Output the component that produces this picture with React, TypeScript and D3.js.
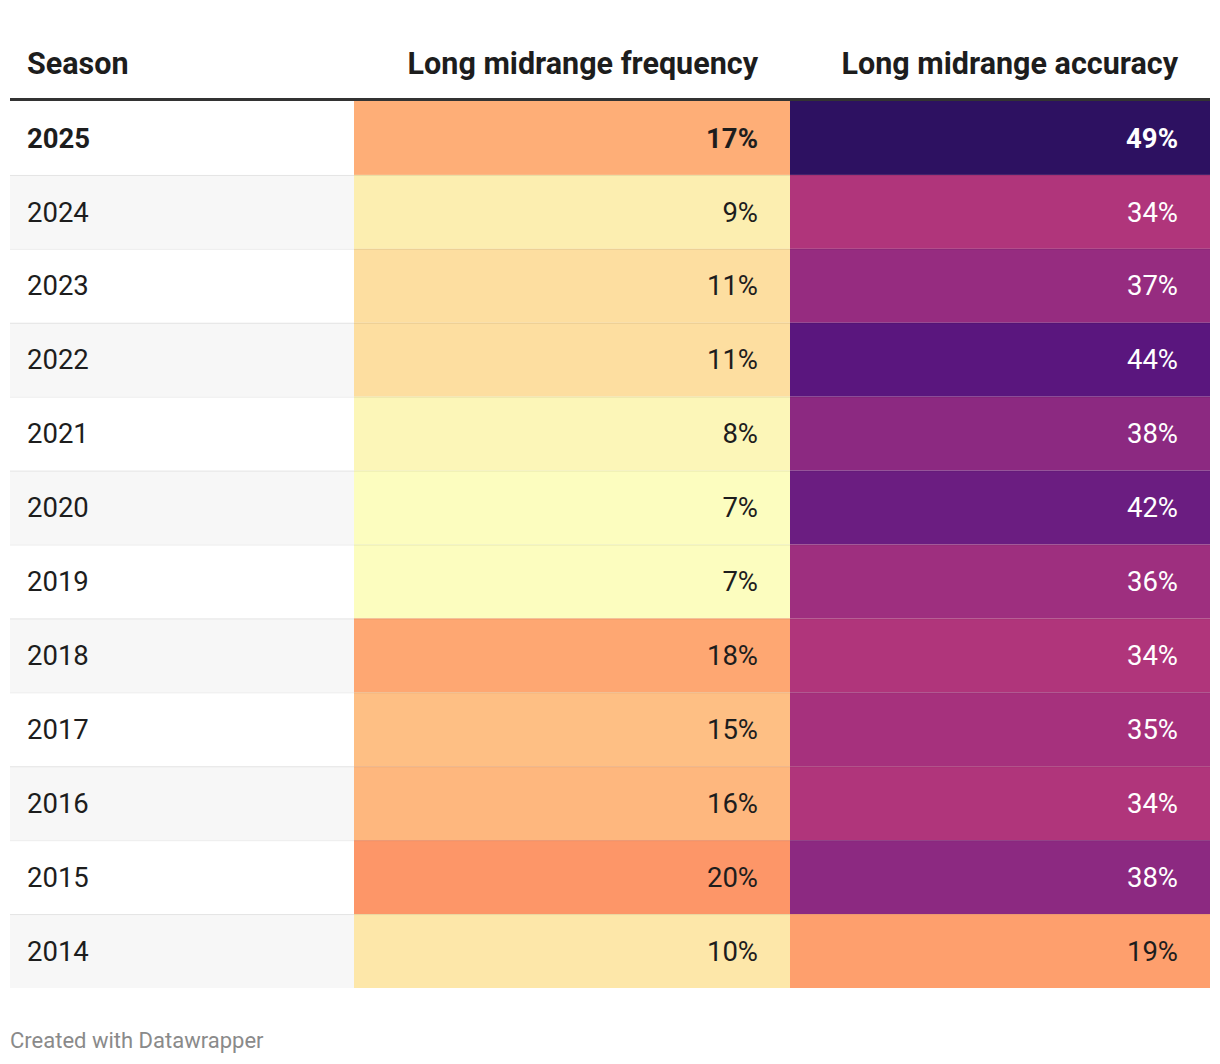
import React from "react";
import * as d3 from "d3";

const seasons = ["2025", "2024", "2023", "2022", "2021", "2020", "2019", "2018", "2017", "2016", "2015", "2014"];
const frequency = [17, 9, 11, 11, 8, 7, 7, 18, 15, 16, 20, 10];
const accuracy = [49, 34, 37, 44, 38, 42, 36, 34, 35, 34, 38, 19];
const headers = ["Season", "Long midrange frequency", "Long midrange accuracy"];
const footerText = "Created with Datawrapper";

const W = 1220;
const H = 1064;
const FONT = "Roboto, 'Noto Sans', sans-serif";

export default function App() {
  const left = 10;
  const right = 1210;
  const col1 = 354;
  const col2 = 790;
  const top = 101;
  const bottom = 988;

  const y = d3.scaleBand<string>().domain(seasons).range([top, bottom]).padding(0);

  const freqT = d3.scaleLinear().domain([7, 20]).range([1, 0.78]);
  const accT = d3.scaleLinear().domain([19, 49]).range([0.8, 0.17]);
  const freqColor = (v: number) => d3.interpolateMagma(freqT(v));
  const accColor = (v: number) => d3.interpolateMagma(accT(v));
  const textOn = (bg: string) => (d3.hsl(bg).l > 0.55 ? "#1d1d1d" : "#ffffff");

  const bh = y.bandwidth();

  return (
    <svg width={W} height={H} style={{ display: "block", position: "absolute", left: 0, top: 0 }} fontFamily={FONT}>
      <rect x={0} y={0} width={W} height={H} fill="#ffffff" />
      {/* headers */}
      <text x={27} y={63} dy="0.35em" fontSize={30.5} fontWeight={700} fill="#1d1d1d">
        {headers[0]}
      </text>
      <text x={758} y={63} dy="0.35em" fontSize={30.5} fontWeight={700} fill="#1d1d1d" textAnchor="end">
        {headers[1]}
      </text>
      <text x={1178} y={63} dy="0.35em" fontSize={30.5} fontWeight={700} fill="#1d1d1d" textAnchor="end">
        {headers[2]}
      </text>

      {seasons.map((s, i) => {
        const y0 = y(s)!;
        const fc = freqColor(frequency[i]);
        const ac = accColor(accuracy[i]);
        const bold = i === 0;
        const cy = y0 + bh / 2;
        return (
          <g key={s}>
            <rect x={left} y={y0} width={col1 - left} height={bh} fill={i % 2 === 1 ? "#f7f7f7" : "#ffffff"} />
            <rect x={col1} y={y0} width={col2 - col1} height={bh} fill={fc} />
            <rect x={col2} y={y0} width={right - col2} height={bh} fill={ac} />
            <text x={27} y={cy} dy="0.35em" fontSize={27.5} fontWeight={bold ? 700 : 400} fill="#1d1d1d">
              {s}
            </text>
            <text x={758} y={cy} dy="0.35em" fontSize={27.5} fontWeight={bold ? 700 : 400} fill={textOn(fc)} textAnchor="end">
              {frequency[i]}%
            </text>
            <text x={1178} y={cy} dy="0.35em" fontSize={27.5} fontWeight={bold ? 700 : 400} fill={textOn(ac)} textAnchor="end">
              {accuracy[i]}%
            </text>
            {i > 0 && (
              <line x1={left} x2={right} y1={y0 + 0.5} y2={y0 + 0.5} stroke="rgba(0,0,0,0.08)" strokeWidth={1} />
            )}
          </g>
        );
      })}

      <line x1={left} x2={right} y1={99.5} y2={99.5} stroke="#333333" strokeWidth={3} />

      <text x={10} y={1040} dy="0.35em" fontSize={22} fill="#8a8a8a">
        {footerText}
      </text>
    </svg>
  );
}
